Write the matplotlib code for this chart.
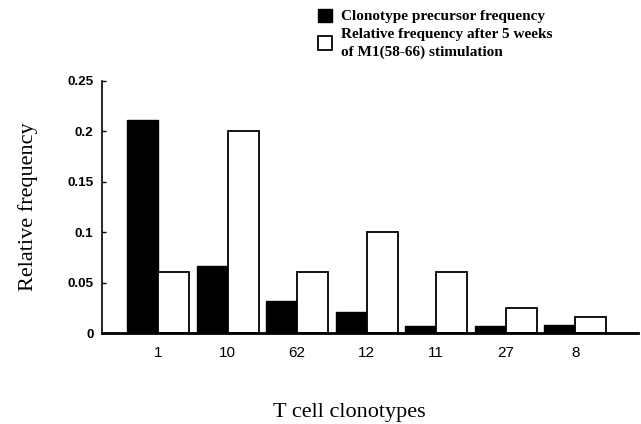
import matplotlib
matplotlib.use("Agg")
import matplotlib.pyplot as plt
import numpy as np

clonotypes = ["1", "10", "62", "12", "11", "27", "8"]
precursor = [0.211, 0.066, 0.032, 0.021, 0.007, 0.007, 0.008]
after_5wk = [0.061, 0.200, 0.061, 0.100, 0.061, 0.025, 0.016]
yticks = [0, 0.05, 0.1, 0.15, 0.2, 0.25]
ytick_labels = ["0", "0.05", "0.1", "0.15", "0.2", "0.25"]

fig = plt.figure(figsize=(6.41, 4.24), dpi=100)
ax = fig.add_axes([0.159, 0.2146, 0.836, 0.5944])

x = np.arange(len(clonotypes)); w = 0.445
ax.bar(x - w/2, precursor, w, color="black", edgecolor="black", lw=1, label="Clonotype precursor frequency")
ax.bar(x + w/2, after_5wk, w, color="white", edgecolor="black", lw=1.3,
       label="Relative frequency after 5 weeks\nof M1(58-66) stimulation")

ax.set_xlim(-0.81, 6.9)
ax.set_ylim(0, 0.25)
ax.set_yticks(yticks)
ax.set_yticklabels(ytick_labels, fontweight="bold", fontsize=9.7, family="Liberation Sans")
ax.set_xticks(x)
ax.set_xticklabels(clonotypes, fontsize=11, family="Liberation Sans")
ax.tick_params(axis="y", direction="in", length=3, width=1, pad=6)
ax.tick_params(axis="x", length=0, pad=9)
for s in ("top", "right"):
    ax.spines[s].set_visible(False)
ax.spines["bottom"].set_linewidth(2)
ax.spines["left"].set_linewidth(1.2)

ax.set_ylabel("Relative frequency", family="Liberation Serif", fontsize=16, labelpad=21)
ax.set_xlabel("T cell clonotypes", family="Liberation Serif", fontsize=16, labelpad=31, x=0.461)

leg = fig.legend(loc="upper left", bbox_to_anchor=(0.479, 1.005), frameon=False,
                 prop={"family": "Liberation Serif", "weight": "bold", "size": 11},
                 handlelength=0.95, handleheight=0.95, handletextpad=0.6,
                 labelspacing=0.3, borderaxespad=0.3)
for t in leg.get_texts():
    t.set_linespacing(1.4)

fig.savefig("out.png", dpi=100)
